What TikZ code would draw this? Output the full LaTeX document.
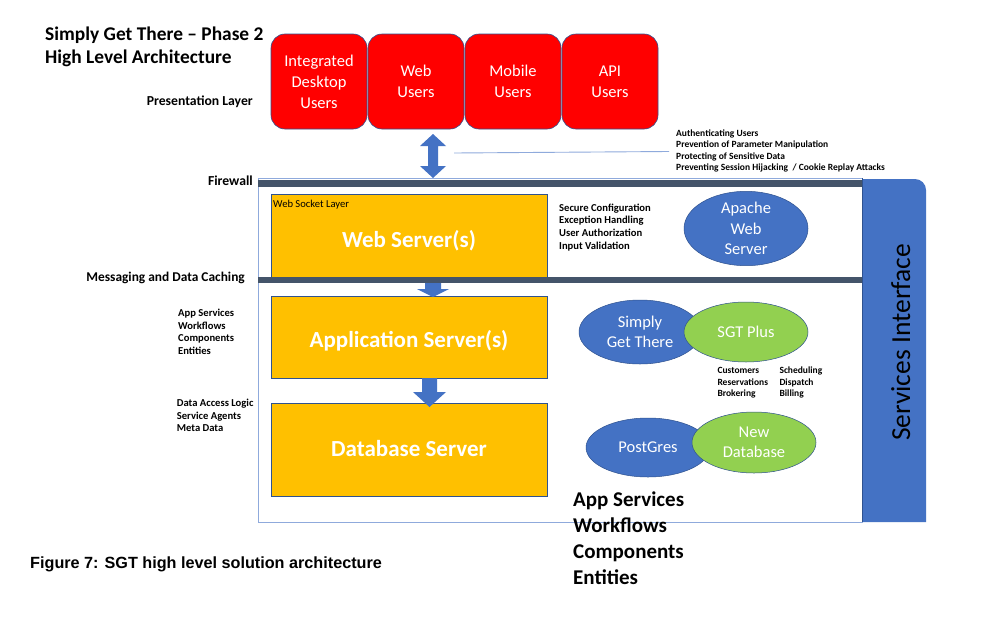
\documentclass[tikz,border=0pt]{standalone}
\usepackage{fontspec}
\setmainfont{Carlito}
\newfontfamily\capfont{Liberation Sans}
\usetikzlibrary{calc,shapes.geometric}
\definecolor{redbox}{HTML}{FF0000}
\definecolor{orangebox}{HTML}{FFC000}
\definecolor{bluefill}{HTML}{4472C4}
\definecolor{greenfill}{HTML}{92D050}
\definecolor{barcol}{HTML}{44546A}
\definecolor{edgecol}{HTML}{2F528F}
\definecolor{framecol}{HTML}{8FAADC}
\definecolor{linecol}{HTML}{8FAADC}
\newcommand\myfs[2]{\fontsize{#1}{#2}\selectfont}
\begin{document}
\begin{tikzpicture}[x=1pt,y=-1pt,
  usrbox/.style={draw=edgecol, line width=0.6pt, fill=redbox, rounded corners=14pt, minimum width=96pt, minimum height=95pt, inner sep=0pt, text=white, align=center, font=\myfs{16.5}{21}},
  srvbox/.style={draw=edgecol, line width=0.6pt, fill=orangebox, minimum width=276pt, inner sep=0pt},
  srvtxt/.style={inner sep=0pt, anchor=base, text=white, font=\bfseries\myfs{23}{28}},
  ell/.style={ellipse, draw=edgecol, line width=0.5pt, inner sep=0pt, text=white, align=center, font=\myfs{16.5}{20.5}},
  lbl/.style={inner sep=0pt, font=\bfseries\myfs{13.7}{15}},
  small/.style={inner sep=0pt, align=left, anchor=base west, font=\bfseries\myfs{10.6}{12.6}},
  tiny/.style={inner sep=0pt, align=left, anchor=base west, font=\bfseries\myfs{9.5}{11.7}},
  arr/.style={fill=bluefill, draw=none}
]
\useasboundingbox (0,0) rectangle (987,621);
\fill[white] (0,0) rectangle (987,621);

% title (base = last line)
\node[inner sep=0pt, anchor=base west, align=left, font=\bfseries\myfs{19.4}{23}] (title) at (45,63) {Simply Get There – Phase 2\\High Level Architecture};

% presentation layer
\node[usrbox] (u1) at (319,81.5) {Integrated\\Desktop\\Users};
\node[usrbox] (u2) at (416,81.5) {Web\\Users};
\node[usrbox] (u3) at (513,81.5) {Mobile\\Users};
\node[usrbox] (u4) at (610,81.5) {API\\Users};
\node[lbl, anchor=base east] (pres) at (253,105) {Presentation Layer};

% double arrow
\fill[arr] (433,134) -- (446,146) -- (438,146) -- (438,166) -- (446,166) -- (433,178)
  -- (420,166) -- (428,166) -- (428,146) -- (420,146) -- cycle;
\coordinate (lineA) at (454,153);
\node[inner sep=0pt, align=left, anchor=base west, font=\bfseries\myfs{9.5}{11.5}] (sec) at (676,170.7)
 {Authenticating Users\\Prevention of Parameter Manipulation\\Protecting of Sensitive Data\\Preventing Session Hijacking\ \ / Cookie Replay Attacks};
\coordinate (lineB) at (669,151.5);
\draw[linecol, line width=0.9pt] (lineA) -- (lineB);

% services interface
\fill[bluefill] (862,522) -- (862,179) [rounded corners=11pt] -- (926,179) [sharp corners] -- (926,522) -- cycle;
\node[inner sep=0pt, anchor=base, rotate=90, font=\myfs{27.5}{30}] (svc) at (910,342.5) {Services Interface};

% frame
\draw[framecol, line width=0.9pt] (258,178) rectangle (862,522);
\draw[edgecol, line width=0.7pt] (862,178) -- (862,522);

% servers
\node[srvbox, minimum height=86pt] (web) at (409,237) {};
\node[inner sep=0pt, anchor=base west, font=\myfs{10.6}{12}] (wsl) at (273,207.3) {Web Socket Layer};
\node[srvtxt] (webt) at (409,247) {Web Server(s)};

\fill[barcol] (258,180) rectangle (862,187);
\fill[barcol] (258,277) rectangle (862,283);
\node[lbl, anchor=base east] (fw) at (253,185) {Firewall};
\node[lbl, anchor=base east, font=\bfseries\myfs{13.4}{15}] (msg) at (245,281.5) {Messaging and Data Caching};

\node[srvbox, minimum height=82pt] (app) at (409,337) {};
\node[srvtxt] (appt) at (409,347) {Application Server(s)};
\node[srvbox, minimum height=93pt] (db) at (409,449.5) {};
\node[srvtxt] (dbt) at (409,456.7) {Database Server};

% down arrows
\fill[arr] (425,283) -- (441,283) -- (441,289) -- (449,289) -- (433,297) -- (417,289) -- (425,289) -- cycle;
\fill[arr] (422,378) -- (437,378) -- (437,392) -- (446,392) -- (429.5,407) -- (413,392) -- (422,392) -- cycle;

% side labels (base = last line)
\node[small] (appl) at (178,354.3) {App Services\\Workflows\\Components\\Entities};
\node[small] (dal) at (176.7,431.7) {Data Access Logic\\Service Agents\\Meta Data};
\node[small] (secc) at (559,249) {Secure Configuration\\Exception Handling\\User Authorization\\Input Validation};

% ellipses
\node[ell, fill=bluefill, minimum width=124pt, minimum height=61pt] (apache) at (746,228.5) {Apache\\Web\\Server};
\node[ell, fill=bluefill, minimum width=122pt, minimum height=64pt] (sgt) at (640,332) {Simply\\Get There};
\node[ell, fill=greenfill, minimum width=124pt, minimum height=60pt] (plus) at (746,332) {SGT Plus};
\node[tiny] (cust) at (717.3,396.7) {Customers\\Reservations\\Brokering};
\node[tiny] (sched) at (779.3,396.7) {Scheduling\\Dispatch\\Billing};
\node[ell, fill=bluefill, minimum width=124pt, minimum height=59pt] (pg) at (648,447.5) {PostGres};
\node[ell, fill=greenfill, minimum width=124pt, minimum height=61pt] (newdb) at (754,442.5) {New\\Database};

% bottom list (base = last line)
\node[inner sep=0pt, align=left, anchor=base west, font=\bfseries\myfs{21}{26}] (big) at (573,584) {App Services\\Workflows\\Components\\Entities};

% caption
\node[inner sep=0pt, anchor=base west, font=\capfont\bfseries\myfs{16.2}{18}] (cap) at (30,568) {Figure 7: SGT high level solution architecture};
\end{tikzpicture}
\end{document}
